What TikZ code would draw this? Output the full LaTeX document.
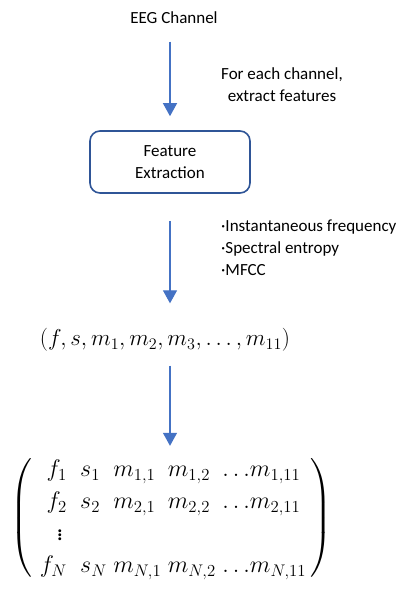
\RequirePackage{fix-cm}
\documentclass[tikz,border=0pt]{standalone}
\usepackage{amsmath}
\usepackage[no-math]{fontspec}
\setmainfont{Carlito}
\usetikzlibrary{positioning,arrows.meta}
\definecolor{arrowblue}{HTML}{4472C4}
\definecolor{boxblue}{HTML}{2F5597}

\begin{document}
\begin{tikzpicture}[x=1pt, y=-1pt, font=\fontsize{17}{22}\selectfont]
    % Define styles
    \tikzstyle{process} = [rectangle, minimum width=160pt, minimum height=62pt, text centered, align=center, draw=boxblue, line width=1.6pt, rounded corners=10pt]
    \tikzstyle{note} = [align=left, inner sep=0pt]
    \tikzstyle{formula} = [font=\fontsize{24}{32}\selectfont, inner sep=0pt]
    \tikzstyle{arrow} = [draw=arrowblue, line width=1.3pt, -{Triangle[length=13pt, width=14pt]}]

    \useasboundingbox (0,0) rectangle (420,590);

    % Process flow
    \node (channel) at (174,18) {EEG Channel};
    \node (extraction) [process] at (170,162) {Feature\\Extraction};
    \node (tuple) [formula, font=\fontsize{23}{28}\selectfont] at (165,340) {$(f,s,m_1,m_2,m_3,\ldots,m_{11})$};
    \node (matrix) [formula] at (171,518) {$\delimiterfactor=880 \delimitershortfall=30pt
      \left(\begin{array}{@{\,\,}r@{\;\;}l@{\;}l@{\;}l@{\;}l@{\,}}
        f_1 & s_1 & m_{1,1} & m_{1,2} & \ldots\! m_{1,11}\\
        f_2 & s_2 & m_{2,1} & m_{2,2} & \ldots\! m_{2,11}\\
        \smash{\vdots}\, &&&&\\
        f_N & s_N & m_{N,1} & m_{N,2} & \ldots\! m_{N,11}
    \end{array}\right)$};

    % Notes
    \node (perchannel) [align=center] at (282,85) {For each channel,\\extract features};
    \node (featurelist) [note, anchor=north west] at (221,220) {·Instantaneous frequency\\·Spectral entropy\\·MFCC};

    % Arrows
    \draw [arrow, shorten <=14pt, shorten >=14pt] (channel.south -| extraction.north) -- (extraction.north);
    \draw [arrow, shorten <=27pt, shorten >=25pt] (extraction.south) -- (extraction.south |- tuple.north);
    \draw [arrow, shorten <=14pt, shorten >=8pt] (extraction.south |- tuple.south) -- (extraction.south |- matrix.north);
\end{tikzpicture}
\end{document}
